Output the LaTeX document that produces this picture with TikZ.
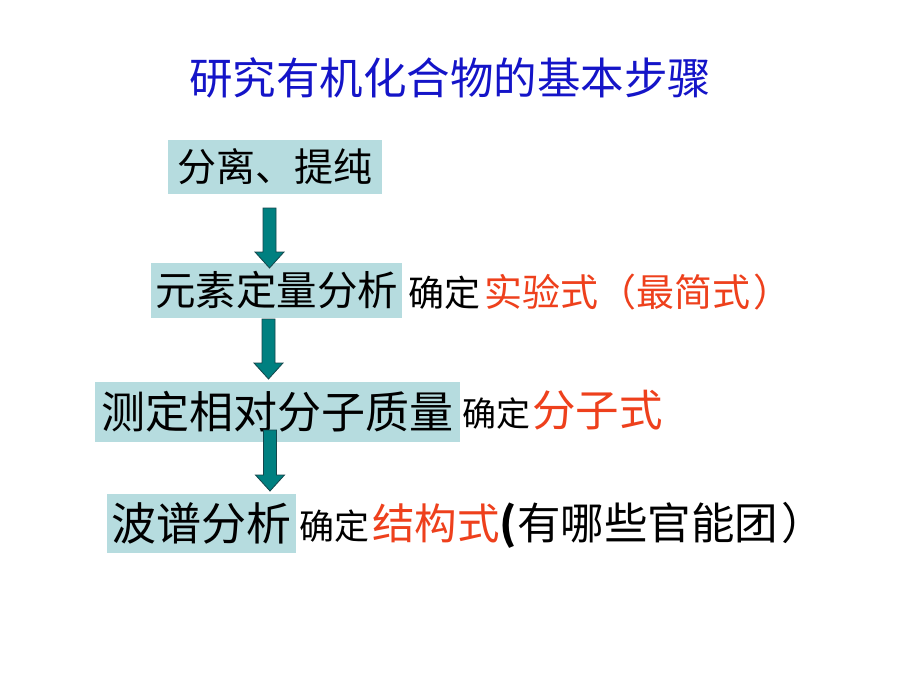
\documentclass[tikz,border=0pt]{standalone}
\usepackage{fontspec}
\setmainfont{Noto Sans CJK SC}
\usetikzlibrary{calc}
\definecolor{titleblue}{RGB}{20,20,200}
\definecolor{boxcyan}{RGB}{182,220,223}
\definecolor{arrowteal}{RGB}{0,128,128}
\definecolor{arrowedge}{RGB}{20,70,75}
\definecolor{hired}{RGB}{238,64,28}
\newcommand\blockarrow[2]{%
  \fill[arrowstyle] let \p1=(#1), \p2=(#2) in
    (\x1-6.5pt,\y1) -- (\x1+6.5pt,\y1) -- (\x1+6.5pt,\y2+16pt) -- (\x1+14.5pt,\y2+16pt)
    -- (\x1,\y2) -- (\x1-14.5pt,\y2+16pt) -- (\x1-6.5pt,\y2+16pt) -- cycle;}
\tikzset{
  stepbox/.style={rectangle, fill=boxcyan, inner sep=0pt, text=black},
  arrowstyle/.style={fill=arrowteal, draw=arrowedge, line width=0.8pt, line join=miter},
  lbl/.style={anchor=west, inner sep=0pt, text=black},
}
\begin{document}
\begin{tikzpicture}[x=1pt,y=-1pt]
\fill[white] (0,0) rectangle (920,690);
\useasboundingbox (0,0) rectangle (920,690);
\node[inner sep=0pt, text=titleblue, font=\fontsize{43.5}{43.5}\selectfont] (title) at (450,78) {研究有机化合物的基本步骤};
\node[stepbox, minimum width=214pt, minimum height=54pt, font=\fontsize{39}{39}\selectfont] (b1) at (275,167) {分离、提纯};
\node[stepbox, minimum width=251pt, minimum height=55pt, font=\fontsize{40.5}{40.5}\selectfont] (b2) at (276.5,290.5) {元素定量分析};
\node[stepbox, minimum width=365pt, minimum height=60pt, font=\fontsize{44}{44}\selectfont] (b3) at (277.5,412) {测定相对分子质量};
\node[stepbox, minimum width=189pt, minimum height=59pt, font=\fontsize{45}{45}\selectfont] (b4) at (201.5,523.5) {波谱分析};
\node[lbl] (l2) at (408,292) {\fontsize{36}{36}\selectfont 确定\kern4pt\color{hired}\fontsize{38}{38}\selectfont 实验式（最简式\kern3pt）};
\node[lbl] (l3) at (462,410) {\fontsize{34}{34}\selectfont 确定\kern2pt\color{hired}\fontsize{43.5}{43.5}\selectfont 分子式};
\node[lbl] (l4) at (299,525) {\fontsize{35}{35}\selectfont 确定\kern3pt{\color{hired}\fontsize{42.5}{42.5}\selectfont 结构式}\fontsize{43.5}{43.5}\selectfont\textbf{(}有哪些官能团\kern3pt）};
\coordinate (a1s) at (269.5,208); \coordinate (a1e) at (269.5,268);
\coordinate (a2s) at (268.5,319); \coordinate (a2e) at (268.5,379);
\coordinate (a3s) at (270,430);   \coordinate (a3e) at (270,491);
\blockarrow{a1s}{a1e}
\blockarrow{a2s}{a2e}
\blockarrow{a3s}{a3e}
\end{tikzpicture}
\end{document}
